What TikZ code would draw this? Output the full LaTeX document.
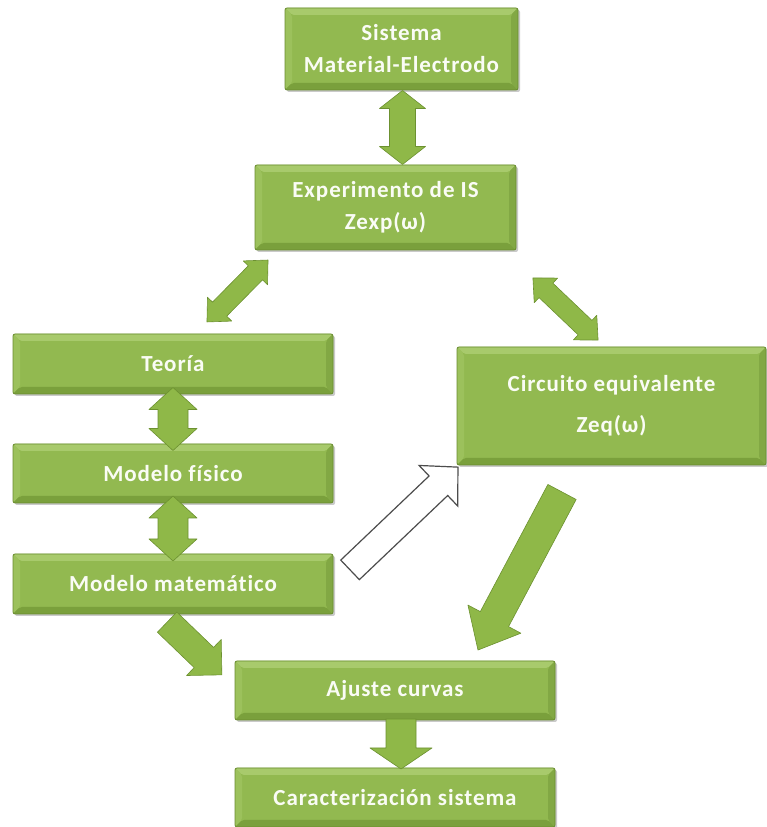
\documentclass[tikz,border=0pt]{standalone}
\usepackage{fontspec}
\setmainfont{Carlito}[LetterSpace=4,Ligatures={NoCommon,NoDiscretionary}]
\usetikzlibrary{shadows,calc}
\definecolor{boxg}{RGB}{146,185,80}
\definecolor{boxd}{RGB}{105,140,48}
\definecolor{bevlt}{RGB}{168,202,108}
\definecolor{bevl}{RGB}{156,193,92}
\definecolor{bevd}{RGB}{122,160,60}
\definecolor{bevr}{RGB}{130,168,68}
\definecolor{arrg}{RGB}{143,184,72}
\definecolor{arrd}{RGB}{108,145,48}
\definecolor{txt}{RGB}{250,252,245}
\tikzset{
  box/.style={rectangle, rounded corners=2pt, fill=boxg, draw=boxd, line width=0.8pt,
    text=txt, font=\bfseries\fontsize{23}{32}\selectfont, align=center, inner sep=0pt,
    drop shadow={shadow xshift=2pt, shadow yshift=-2pt, opacity=0.35, fill=black!60},
    path picture={
      \fill[bevlt] (path picture bounding box.north west) -- (path picture bounding box.north east)
        -- ([xshift=-7pt,yshift=-7pt]path picture bounding box.north east)
        -- ([xshift=7pt,yshift=-7pt]path picture bounding box.north west) -- cycle;
      \fill[bevl] (path picture bounding box.north west) -- (path picture bounding box.south west)
        -- ([xshift=7pt,yshift=7pt]path picture bounding box.south west)
        -- ([xshift=7pt,yshift=-7pt]path picture bounding box.north west) -- cycle;
      \fill[bevd] (path picture bounding box.south west) -- (path picture bounding box.south east)
        -- ([xshift=-7pt,yshift=7pt]path picture bounding box.south east)
        -- ([xshift=7pt,yshift=7pt]path picture bounding box.south west) -- cycle;
      \fill[bevr] (path picture bounding box.north east) -- (path picture bounding box.south east)
        -- ([xshift=-7pt,yshift=7pt]path picture bounding box.south east)
        -- ([xshift=-7pt,yshift=-7pt]path picture bounding box.north east) -- cycle;
    }},
  arrstyle/.style={fill=arrg, draw=arrd, line width=0.6pt, line join=round},
  whitearr/.style={fill=white, draw=black!70, line width=1.2pt, line join=miter},
  pics/dblarr/.style args={#1/#2/#3/#4}{code={
    \path[arrstyle] (-#1,0) -- (-#1+#4,#3) -- (-#1+#4,#2) -- (#1-#4,#2) -- (#1-#4,#3) -- (#1,0)
      -- (#1-#4,-#3) -- (#1-#4,-#2) -- (-#1+#4,-#2) -- (-#1+#4,-#3) -- cycle;
  }},
  pics/sglarr/.style args={#1/#2/#3/#4}{code={
    \path[arrstyle] (-#1,#2) -- (#1-#4,#2) -- (#1-#4,#3) -- (#1,0)
      -- (#1-#4,-#3) -- (#1-#4,-#2) -- (-#1,-#2) -- cycle;
  }},
  pics/wsglarr/.style args={#1/#2/#3/#4}{code={
    \path[whitearr] (-#1,#2) -- (#1-#4,#2) -- (#1-#4,#3) -- (#1,0)
      -- (#1-#4,-#3) -- (#1-#4,-#2) -- (-#1,-#2) -- cycle;
  }},
}
\begin{document}
\begin{tikzpicture}[x=1pt,y=1pt]
\useasboundingbox (0,0) rectangle (766,827);
% boxes
\node[box, minimum width=233pt, minimum height=82pt] (sis) at (401.5,778) {Sistema\\Material-Electrodo};
\node[box, minimum width=261pt, minimum height=85pt] (exp) at (385.5,619.5) {Experimento de IS\\Zexp(ω)};
\node[box, minimum width=320pt, minimum height=60pt] (teo) at (173,463) {Teoría};
\node[box, minimum width=320pt, minimum height=59pt] (fis) at (173,353.5) {Modelo físico};
\node[box, minimum width=320pt, minimum height=60pt] (mat) at (173,243) {Modelo matemático};
\node[box, minimum width=309pt, minimum height=118pt] (cir) at (611.5,421) {Circuito equivalente\\[9pt]Zeq(ω)};
\node[box, minimum width=320pt, minimum height=59pt] (aju) at (395,136.5) {Ajuste curvas};
\node[box, minimum width=320pt, minimum height=59pt] (car) at (395,29.5) {Caracterización sistema};
% block arrows
\pic[rotate=90] at ($(sis.south)!0.5!(exp.north)+(9,0)$) {dblarr={37/13/23/18}};
\pic[rotate=45.4] at (237.5,536) {dblarr={43.5/10/17/18}};
\pic[rotate=-43.6] at (565.5,518) {dblarr={45/10/17/18}};
\pic[rotate=90] at ($(teo.south)!0.5!(fis.north)$) {dblarr={31.5/15/24/22}};
\pic[rotate=90] at ($(fis.south)!0.5!(mat.north)$) {dblarr={32.5/15/24/22}};
\pic[rotate=43.6] at (404,308.5) {wsglarr={74.5/13.5/28/27}};
\pic[rotate=242] at (520,256) {sglarr={89.5/16/30/35}};
\pic[rotate=-43.9] at (194.5,178.5) {sglarr={38/14/25/25}};
\pic[rotate=-90] at ($(aju.south)!0.5!(car.north)+(6,0)$) {sglarr={25/15/31/21}};
\end{tikzpicture}
\end{document}
